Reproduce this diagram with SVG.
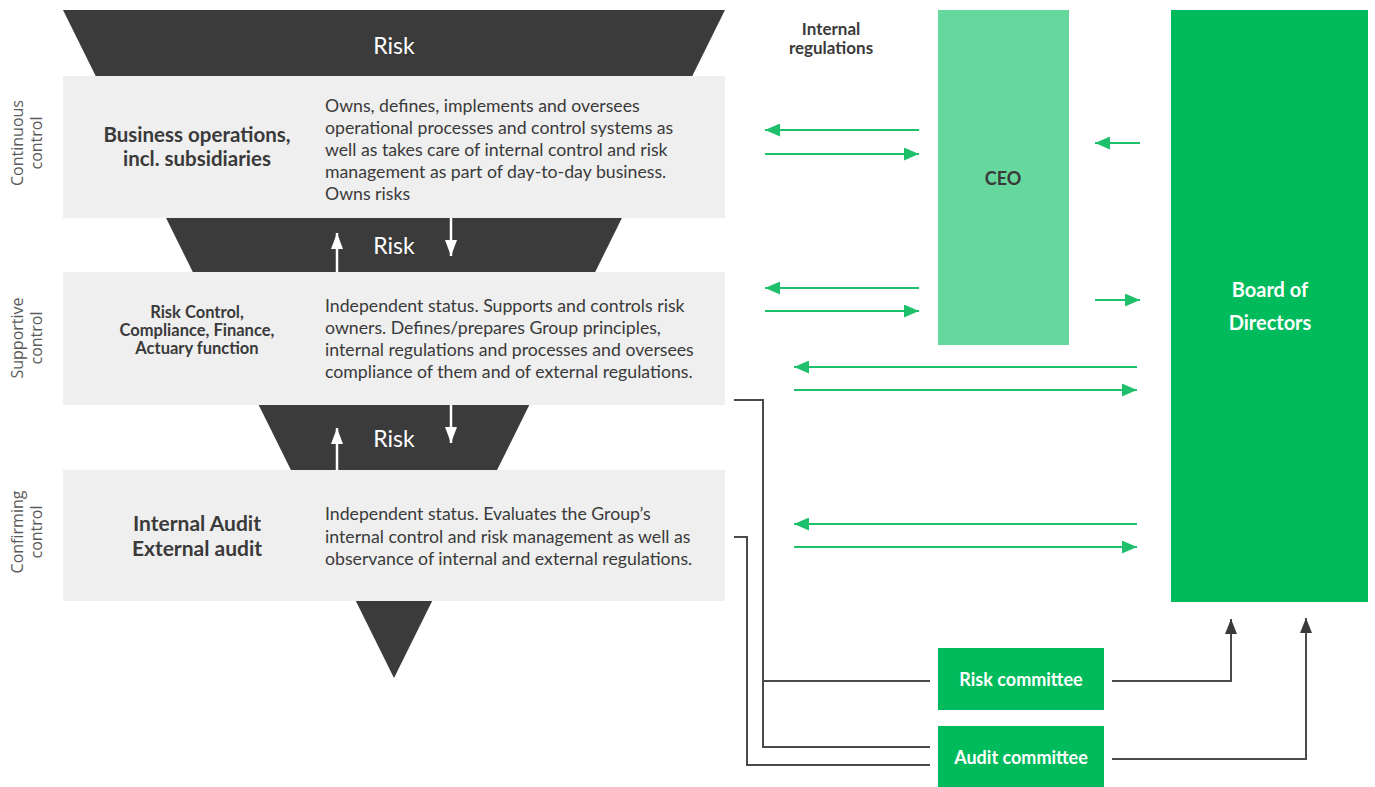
<svg xmlns="http://www.w3.org/2000/svg" width="1375" height="787" viewBox="0 0 1375 787">
  <defs>
    <style>
      .funnel { fill: #3b3b3b; }
      .band { fill: #efefef; }
      .risk { font-family: Lato, "Liberation Sans", sans-serif; font-size: 23px; fill: #ffffff; text-anchor: middle; }
      .title { font-family: Lato, "Liberation Sans", sans-serif; font-weight: bold; fill: #3a3a3a; text-anchor: middle; }
      .body { font-family: Lato, "Liberation Sans", sans-serif; font-size: 17.7px; fill: #3a3a3a; }
      .side { font-family: "Open Sans", "Liberation Sans", sans-serif; font-size: 16px; fill: #5a5a5a; text-anchor: middle; }
      .wtxt { font-family: Lato, "Liberation Sans", sans-serif; font-weight: bold; fill: #ffffff; text-anchor: middle; }
      .g { stroke: #1fc06b; stroke-width: 2; fill: none; }
      .k { stroke: #4a4a4a; stroke-width: 2; fill: none; }
      .w { stroke: #ffffff; stroke-width: 2.5; fill: none; }
    </style>
    <marker id="ag" markerUnits="userSpaceOnUse" markerWidth="16" markerHeight="13" refX="15" refY="6.5" orient="auto">
      <path d="M0,0 L15,6.5 L0,13 z" fill="#1fc06b"/>
    </marker>
    <marker id="ak" markerUnits="userSpaceOnUse" markerWidth="16" markerHeight="13" refX="15" refY="6" orient="auto">
      <path d="M0,0 L15,6 L0,12 z" fill="#3a3a3a"/>
    </marker>
    <marker id="aw" markerUnits="userSpaceOnUse" markerWidth="17" markerHeight="13" refX="16" refY="6" orient="auto">
      <path d="M0,0 L16,6 L0,12 z" fill="#ffffff"/>
    </marker>
  </defs>

  <rect width="1375" height="787" fill="#ffffff"/>

  <g id="funnel">
    <polygon class="funnel" points="63,10 725,10 394,678"/>
  </g>

  <g id="layer-business">
    <rect class="band" x="63" y="76" width="662" height="142"/>
    <text class="title" font-size="20.5" x="197" y="142">Business operations,</text>
    <text class="title" font-size="20.5" x="197" y="166">incl. subsidiaries</text>
    <text class="body" x="325" y="112">Owns, defines, implements and oversees</text>
    <text class="body" x="325" y="134">operational processes and control systems as</text>
    <text class="body" x="325" y="156">well as takes care of internal control and risk</text>
    <text class="body" x="325" y="178">management as part of day-to-day business.</text>
    <text class="body" x="325" y="200">Owns risks</text>
  </g>

  <g id="layer-supportive">
    <rect class="band" x="63" y="272" width="662" height="133"/>
    <text class="title" font-size="16.5" x="197" y="318">Risk Control,</text>
    <text class="title" font-size="16.5" x="197" y="336">Compliance, Finance,</text>
    <text class="title" font-size="16.5" x="197" y="354">Actuary function</text>
    <text class="body" x="325" y="312">Independent status. Supports and controls risk</text>
    <text class="body" x="325" y="334">owners. Defines/prepares Group principles,</text>
    <text class="body" x="325" y="356">internal regulations and processes and oversees</text>
    <text class="body" x="325" y="378">compliance of them and of external regulations.</text>
  </g>

  <g id="layer-confirming">
    <rect class="band" x="63" y="470" width="662" height="131"/>
    <text class="title" font-size="21" x="197" y="531">Internal Audit</text>
    <text class="title" font-size="21" x="197" y="556">External audit</text>
    <text class="body" x="325" y="520">Independent status. Evaluates the Group’s</text>
    <text class="body" x="325" y="543">internal control and risk management as well as</text>
    <text class="body" x="325" y="565">observance of internal and external regulations.</text>
  </g>

  <g id="risk-labels">
    <text class="risk" x="394" y="54">Risk</text>
    <text class="risk" x="394" y="254">Risk</text>
    <text class="risk" x="394" y="447">Risk</text>
  </g>

  <g id="side-labels">
    <text class="side" transform="translate(23,143) rotate(-90)"><tspan x="0" y="0">Continuous</tspan><tspan x="0" y="19">control</tspan></text>
    <text class="side" transform="translate(23,338) rotate(-90)"><tspan x="0" y="0">Supportive</tspan><tspan x="0" y="19">control</tspan></text>
    <text class="side" transform="translate(23,532) rotate(-90)"><tspan x="0" y="0">Confirming</tspan><tspan x="0" y="19">control</tspan></text>
  </g>

  <g id="internal-regulations">
    <text class="title" font-size="17" x="831" y="35">Internal</text>
    <text class="title" font-size="17" x="831" y="54">regulations</text>
  </g>

  <g id="ceo">
    <rect x="938" y="10" width="131" height="335" fill="#66d89e"/>
    <text class="title" font-size="18" x="1003" y="185">CEO</text>
  </g>

  <g id="board">
    <rect x="1171" y="10" width="197" height="592" fill="#00bb5c"/>
    <text class="wtxt" font-size="20" x="1270" y="297">Board of</text>
    <text class="wtxt" font-size="20" x="1270" y="330">Directors</text>
  </g>

  <g id="risk-committee">
    <rect x="938" y="648" width="166" height="62" fill="#00bb5c"/>
    <text class="wtxt" font-size="18" x="1021" y="686">Risk committee</text>
  </g>

  <g id="audit-committee">
    <rect x="938" y="726" width="166" height="61" fill="#00bb5c"/>
    <text class="wtxt" font-size="18" x="1021" y="764">Audit committee</text>
  </g>

  <g id="connectors">
    <line class="w" x1="337" y1="272" x2="337" y2="233" marker-end="url(#aw)"/>
    <line class="w" x1="451" y1="218" x2="451" y2="256" marker-end="url(#aw)"/>
    <line class="w" x1="337" y1="470" x2="337" y2="428" marker-end="url(#aw)"/>
    <line class="w" x1="451" y1="405" x2="451" y2="443" marker-end="url(#aw)"/>

    <line class="g" x1="919" y1="130" x2="765" y2="130" marker-end="url(#ag)"/>
    <line class="g" x1="765" y1="154" x2="919" y2="154" marker-end="url(#ag)"/>
    <line class="g" x1="1140" y1="143" x2="1095" y2="143" marker-end="url(#ag)"/>
    <line class="g" x1="919" y1="288" x2="765" y2="288" marker-end="url(#ag)"/>
    <line class="g" x1="765" y1="311" x2="919" y2="311" marker-end="url(#ag)"/>
    <line class="g" x1="1095" y1="300" x2="1140" y2="300" marker-end="url(#ag)"/>
    <line class="g" x1="1137" y1="367" x2="794" y2="367" marker-end="url(#ag)"/>
    <line class="g" x1="794" y1="390" x2="1137" y2="390" marker-end="url(#ag)"/>
    <line class="g" x1="1137" y1="524" x2="794" y2="524" marker-end="url(#ag)"/>
    <line class="g" x1="794" y1="547" x2="1137" y2="547" marker-end="url(#ag)"/>

    <polyline class="k" points="734,400 763,400 763,747 930,747"/>
    <line class="k" x1="763" y1="681" x2="930" y2="681"/>
    <polyline class="k" points="734,537 747,537 747,765 930,765"/>

    <polyline class="k" points="1112,681 1231,681 1231,619" marker-end="url(#ak)"/>
    <polyline class="k" points="1112,759 1306,759 1306,618" marker-end="url(#ak)"/>
  </g>
</svg>
